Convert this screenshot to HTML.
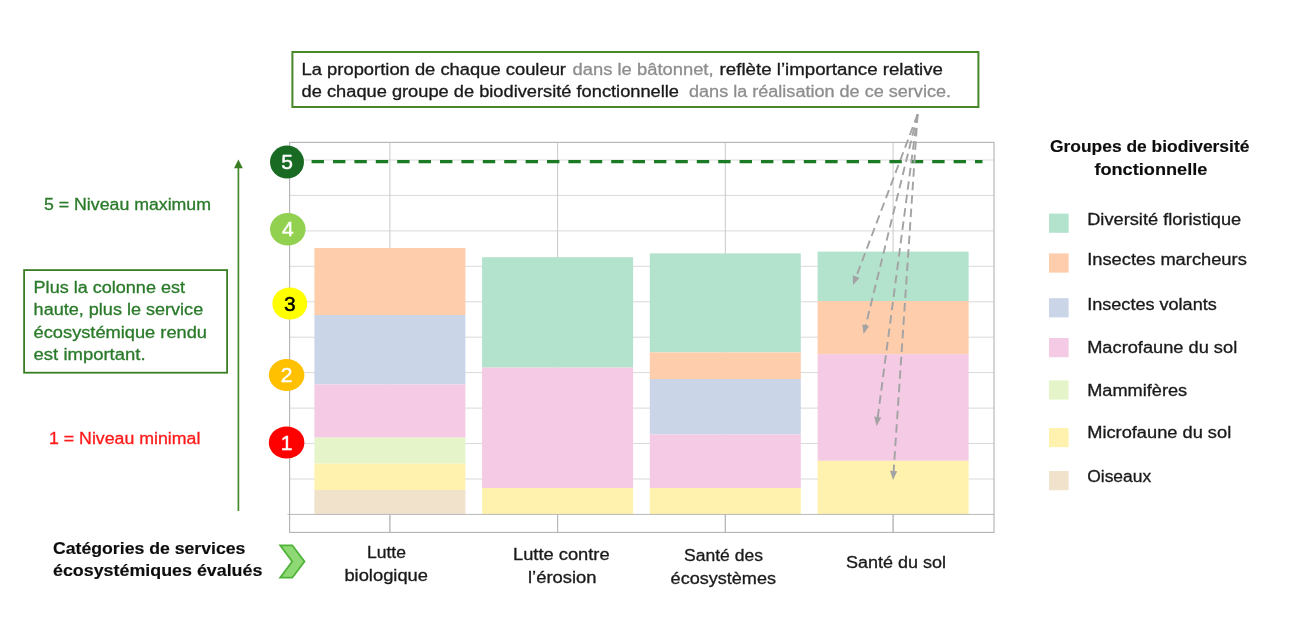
<!DOCTYPE html>
<html lang="fr"><head><meta charset="utf-8"><title>Services écosystémiques</title>
<style>
html,body{margin:0;padding:0;background:#fff;}
body{width:1300px;height:637px;overflow:hidden;}
svg{display:block;}
text{font-family:"Liberation Sans",Arial,sans-serif;font-size:15.8px;fill:#1a1a1a;stroke:#1a1a1a;stroke-width:.3px;}
.b{font-weight:bold;fill:#0d0d0d;stroke:#0d0d0d;stroke-width:.15px;}
.g{fill:#2a7a2a;stroke:#2a7a2a;}
.r{fill:#ff1a1a;stroke:#ff1a1a;}
.gr{fill:#8e8e8e;stroke:#8e8e8e;}
.m{text-anchor:middle;}
.num{font-size:21px;text-anchor:middle;}
</style></head><body>
<svg width="1300" height="637" viewBox="0 0 1300 637">
<rect width="1300" height="637" fill="#ffffff"/>

<g stroke="#d9d9d9" stroke-width="1" fill="none">
<line x1="289.6" x2="994.0" y1="160.0" y2="160.0"/>
<line x1="289.6" x2="994.0" y1="195.4" y2="195.4"/>
<line x1="289.6" x2="994.0" y1="230.9" y2="230.9"/>
<line x1="289.6" x2="994.0" y1="266.3" y2="266.3"/>
<line x1="289.6" x2="994.0" y1="301.8" y2="301.8"/>
<line x1="289.6" x2="994.0" y1="337.2" y2="337.2"/>
<line x1="289.6" x2="994.0" y1="372.6" y2="372.6"/>
<line x1="289.6" x2="994.0" y1="408.1" y2="408.1"/>
<line x1="289.6" x2="994.0" y1="443.5" y2="443.5"/>
<line x1="289.6" x2="994.0" y1="479.0" y2="479.0"/>
</g>
<g stroke="#c9c9c9" stroke-width="1" fill="none">
<line x1="389.9" x2="389.9" y1="142.4" y2="532.4"/>
<line x1="557.6" x2="557.6" y1="142.4" y2="532.4"/>
<line x1="725.3" x2="725.3" y1="142.4" y2="532.4"/>
<line x1="893.1" x2="893.1" y1="142.4" y2="532.4"/>
</g>
<rect x="289.6" y="142.4" width="704.4" height="390.0" fill="none" stroke="#b3b3b3" stroke-width="1.1"/>
<rect x="314.4" y="248.0" width="151.0" height="67.0" fill="#fdcdac"/>
<rect x="314.4" y="315.0" width="151.0" height="69.4" fill="#cbd5e8"/>
<rect x="314.4" y="384.4" width="151.0" height="53.2" fill="#f4cae4"/>
<rect x="314.4" y="437.6" width="151.0" height="26.0" fill="#e6f5c9"/>
<rect x="314.4" y="463.6" width="151.0" height="26.4" fill="#fff2ae"/>
<rect x="314.4" y="490.0" width="151.0" height="24.4" fill="#f1e2cc"/>
<rect x="482.1" y="257.2" width="151.0" height="110.4" fill="#b3e2cd"/>
<rect x="482.1" y="367.6" width="151.0" height="120.4" fill="#f4cae4"/>
<rect x="482.1" y="488.0" width="151.0" height="26.4" fill="#fff2ae"/>
<rect x="649.8" y="253.4" width="151.0" height="99.0" fill="#b3e2cd"/>
<rect x="649.8" y="352.4" width="151.0" height="26.6" fill="#fdcdac"/>
<rect x="649.8" y="379.0" width="151.0" height="55.4" fill="#cbd5e8"/>
<rect x="649.8" y="434.4" width="151.0" height="53.6" fill="#f4cae4"/>
<rect x="649.8" y="488.0" width="151.0" height="26.4" fill="#fff2ae"/>
<rect x="817.6" y="251.6" width="151.0" height="49.4" fill="#b3e2cd"/>
<rect x="817.6" y="301.0" width="151.0" height="53.2" fill="#fdcdac"/>
<rect x="817.6" y="354.2" width="151.0" height="106.6" fill="#f4cae4"/>
<rect x="817.6" y="460.8" width="151.0" height="53.6" fill="#fff2ae"/>
<line x1="389.9" x2="389.9" y1="514.4" y2="532.4" stroke="#b3b3b3" stroke-width="1"/>
<line x1="557.6" x2="557.6" y1="514.4" y2="532.4" stroke="#b3b3b3" stroke-width="1"/>
<line x1="725.3" x2="725.3" y1="514.4" y2="532.4" stroke="#b3b3b3" stroke-width="1"/>
<line x1="893.1" x2="893.1" y1="514.4" y2="532.4" stroke="#b3b3b3" stroke-width="1"/>
<line x1="287.6" x2="994.0" y1="514.4" y2="514.4" stroke="#b8b8b8" stroke-width="1"/>
<line x1="311.6" x2="982.5" y1="161.6" y2="161.6" stroke="#1b7a24" stroke-width="3.2" stroke-dasharray="12.4 9"/>
<g stroke="#a3a3a3" stroke-width="1.9" fill="none" stroke-dasharray="8.5 5">
<line x1="917.6" y1="114.4" x2="855.5" y2="278.5"/>
<line x1="917.6" y1="114.4" x2="865.3" y2="327.2"/>
<line x1="917.6" y1="114.4" x2="877.5" y2="419.1"/>
<line x1="917.6" y1="114.4" x2="893.5" y2="473.0"/>
</g>
<g fill="#a3a3a3">
<polygon points="853.0,285.0 852.8,275.3 859.6,277.9"/>
<polygon points="863.6,334.0 862.3,324.4 869.2,326.1"/>
<polygon points="876.6,426.0 874.2,416.6 881.3,417.5"/>
<polygon points="893.0,480.0 890.0,470.8 897.2,471.3"/>
</g>
<ellipse cx="287.0" cy="162.1" rx="17.0" ry="16.5" fill="#196b24"/>
<text class="num" x="287.0" y="169.1" style="fill:#fff;stroke:#fff;stroke-width:.45px">5</text>
<ellipse cx="287.8" cy="229.3" rx="17.8" ry="16.3" fill="#92d050"/>
<text class="num" x="287.8" y="236.3" style="fill:#fff;stroke:#fff;stroke-width:.45px">4</text>
<ellipse cx="289.8" cy="303.5" rx="17.4" ry="16.1" fill="#ffff00"/>
<text class="num" x="289.8" y="310.5" style="fill:#000;stroke:#000;stroke-width:.45px">3</text>
<ellipse cx="286.6" cy="375.0" rx="17.8" ry="16.0" fill="#ffc000"/>
<text class="num" x="286.6" y="382.0" style="fill:#fff;stroke:#fff;stroke-width:.45px">2</text>
<ellipse cx="286.6" cy="442.5" rx="17.8" ry="16.1" fill="#ff0000"/>
<text class="num" x="286.6" y="449.5" style="fill:#fff;stroke:#fff;stroke-width:.45px">1</text>
<line x1="238.4" x2="238.4" y1="166" y2="511" stroke="#4a8a2c" stroke-width="1.7"/>
<polygon points="238.4,159.4 242.8,168.2 234.0,168.2" fill="#3b7d23"/>
<text x="44" y="209.8" class="g" textLength="167" lengthAdjust="spacingAndGlyphs">5 = Niveau maximum</text>
<text x="49" y="444.0" class="r" textLength="151.4" lengthAdjust="spacingAndGlyphs">1 = Niveau minimal</text>
<rect x="24.1" y="270.1" width="203" height="102.6" fill="none" stroke="#3b7d23" stroke-width="1.8"/>
<text x="33.6" y="292.8" class="g" textLength="151.4" lengthAdjust="spacingAndGlyphs">Plus la colonne est</text>
<text x="33.6" y="315.4" class="g" textLength="169.6" lengthAdjust="spacingAndGlyphs">haute, plus le service</text>
<text x="33.6" y="338.0" class="g" textLength="173.4" lengthAdjust="spacingAndGlyphs">écosystémique rendu</text>
<text x="33.6" y="360.4" class="g" textLength="112" lengthAdjust="spacingAndGlyphs">est important.</text>
<rect x="292.4" y="52" width="686" height="55" fill="#fff" stroke="#47882a" stroke-width="2"/>
<text x="301.6" y="74.8" textLength="264.4" lengthAdjust="spacingAndGlyphs">La proportion de chaque couleur</text>
<text x="572.6" y="74.8" class="gr" textLength="141" lengthAdjust="spacingAndGlyphs">dans le bâtonnet,</text>
<text x="719.6" y="74.8" textLength="223.4" lengthAdjust="spacingAndGlyphs">reflète l’importance relative</text>
<text x="301.6" y="97.0" textLength="377.4" lengthAdjust="spacingAndGlyphs">de chaque groupe de biodiversité fonctionnelle</text>
<text x="689" y="97.0" class="gr" textLength="262" lengthAdjust="spacingAndGlyphs">dans la réalisation de ce service.</text>
<text x="53" y="553.8" class="b" textLength="192.4" lengthAdjust="spacingAndGlyphs">Catégories de services</text>
<text x="53" y="576.4" class="b" textLength="209.4" lengthAdjust="spacingAndGlyphs">écosystémiques évalués</text>
<polygon points="280.2,545.3 292.3,545.3 304.5,561.5 292.3,577.7 280.2,577.7 292.2,561.5" fill="#8ed973" stroke="#4fb33a" stroke-width="1.8" stroke-linejoin="miter"/>
<text x="367" y="558.4" textLength="39" lengthAdjust="spacingAndGlyphs">Lutte</text>
<text x="344.4" y="580.8" textLength="83.6" lengthAdjust="spacingAndGlyphs">biologique</text>
<text x="513" y="560.4" textLength="96.6" lengthAdjust="spacingAndGlyphs">Lutte contre</text>
<text x="528" y="583.4" textLength="68.6" lengthAdjust="spacingAndGlyphs">l’érosion</text>
<text x="684" y="561.4" textLength="79" lengthAdjust="spacingAndGlyphs">Santé des</text>
<text x="670.6" y="584.0" textLength="105.4" lengthAdjust="spacingAndGlyphs">écosystèmes</text>
<text x="846" y="567.8" textLength="100" lengthAdjust="spacingAndGlyphs">Santé du sol</text>
<text x="1050" y="152.0" class="b" textLength="199.4" lengthAdjust="spacingAndGlyphs">Groupes de biodiversité</text>
<text x="1094.4" y="175.0" class="b" textLength="113" lengthAdjust="spacingAndGlyphs">fonctionnelle</text>
<rect x="1049" y="213.6" width="19.6" height="19.2" fill="#b3e2cd"/>
<text x="1087.2" y="225.4" textLength="154" lengthAdjust="spacingAndGlyphs">Diversité floristique</text>
<rect x="1049" y="253.4" width="19.6" height="19.2" fill="#fdcdac"/>
<text x="1087.2" y="265.4" textLength="159.6" lengthAdjust="spacingAndGlyphs">Insectes marcheurs</text>
<rect x="1049" y="298.2" width="19.6" height="19.2" fill="#cbd5e8"/>
<text x="1087.2" y="310.4" textLength="129.6" lengthAdjust="spacingAndGlyphs">Insectes volants</text>
<rect x="1049" y="338" width="19.6" height="19.2" fill="#f4cae4"/>
<text x="1087.2" y="353.0" textLength="150" lengthAdjust="spacingAndGlyphs">Macrofaune du sol</text>
<rect x="1049" y="380.4" width="19.6" height="19.2" fill="#e6f5c9"/>
<text x="1087.2" y="395.8" textLength="100" lengthAdjust="spacingAndGlyphs">Mammifères</text>
<rect x="1049" y="428" width="19.6" height="19.2" fill="#fff2ae"/>
<text x="1087.2" y="437.8" textLength="144" lengthAdjust="spacingAndGlyphs">Microfaune du sol</text>
<rect x="1049" y="471" width="19.6" height="19.2" fill="#f1e2cc"/>
<text x="1087.2" y="482.4" textLength="64" lengthAdjust="spacingAndGlyphs">Oiseaux</text>
</svg></body></html>
